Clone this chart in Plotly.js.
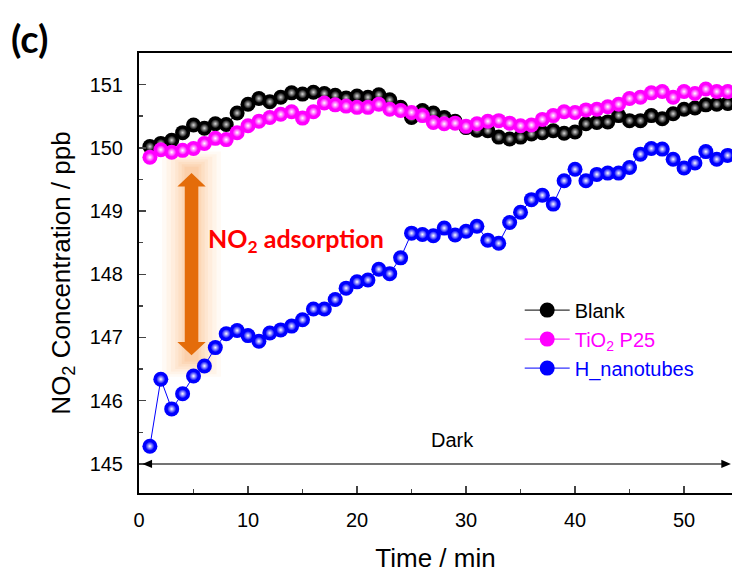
<!DOCTYPE html>
<html>
<head>
<meta charset="utf-8">
<script src="https://cdn.plot.ly/plotly-3.0.1.min.js"></script>
<style>html,body{margin:0;padding:0;background:#fff;}#chart{width:732px;height:579px;}</style>
</head>
<body>
<div id="chart"></div>
<script>
const timeMin = [1,2,3,4,5,6,7,8,9,10,11,12,13,14,15,16,17,18,19,20,21,22,23,24,25,26,27,28,29,30,31,32,33,34,35,36,37,38,39,40,41,42,43,44,45,46,47,48,49,50,51,52,53,54];
const blank = [150.02,150.07,150.12,150.24,150.36,150.31,150.38,150.37,150.55,150.69,150.78,150.73,150.80,150.87,150.85,150.88,150.86,150.83,150.79,150.82,150.80,150.84,150.76,150.64,150.48,150.59,150.55,150.48,150.42,150.32,150.28,150.27,150.17,150.14,150.17,150.22,150.24,150.27,150.23,150.25,150.38,150.40,150.41,150.51,150.43,150.43,150.51,150.46,150.54,150.61,150.63,150.68,150.69,150.70];
const tio2P25 = [149.85,149.97,149.93,149.96,149.99,150.07,150.15,150.13,150.24,150.35,150.42,150.48,150.53,150.57,150.47,150.57,150.71,150.68,150.66,150.64,150.64,150.69,150.61,150.59,150.56,150.51,150.40,150.38,150.39,150.34,150.38,150.42,150.43,150.39,150.35,150.36,150.45,150.51,150.57,150.56,150.60,150.61,150.65,150.69,150.78,150.80,150.87,150.89,150.80,150.89,150.86,150.93,150.89,150.89];
const hNanotubes = [145.28,146.34,145.87,146.11,146.39,146.55,146.84,147.06,147.11,147.03,146.94,147.07,147.12,147.18,147.28,147.45,147.45,147.60,147.78,147.88,147.91,148.08,148.01,148.26,148.65,148.63,148.61,148.73,148.62,148.68,148.76,148.54,148.49,148.82,148.98,149.18,149.25,149.11,149.48,149.66,149.48,149.58,149.60,149.60,149.69,149.90,149.99,149.98,149.82,149.68,149.76,149.94,149.82,149.88];
const seriesNames = ['<span style="color:#000000">Blank</span>', '<span style="color:#FF00FF">TiO<sub>2</sub> P25</span>', '<span style="color:#0000FF">H_nanotubes</span>'];
const xTicks = [0,10,20,30,40,50];
const yTicks = [145,146,147,148,149,150,151];

const series = [
  {y: blank, color: '#000000', hl: '#000000', hc: '#d8d8d8'},
  {y: tio2P25, color: '#FF00FF', hl: '#FF00FF', hc: '#ffffff'},
  {y: hNanotubes, color: '#0000FF', hl: '#0000FF', hc: '#ffffff'}
];
const traces = [];
series.forEach((s, i) => {
  traces.push({
    x: timeMin, y: s.y, type: 'scatter', mode: 'lines+markers', name: seriesNames[i],
    line: {color: s.color, width: 1},
    marker: {color: s.color, size: 15, line: {width: 0}}
  });
  traces.push({
    x: timeMin, y: s.y, type: 'scatter', mode: 'markers', showlegend: false, hoverinfo: 'skip',
    marker: {color: s.hl, size: 9, line: {width: 0}, gradient: {type: 'radial', color: s.hc}}
  });
});

const c = 4.82;
const arrowPath = `M${c},149.6 L${c+1.3},149.39 L${c+0.62},149.39 L${c+0.62},146.93 L${c+1.3},146.93 L${c},146.72 L${c-1.3},146.93 L${c-0.62},146.93 L${c-0.62},149.39 L${c-1.3},149.39 Z`;

const shapes = [];
// soft glow: stacked translucent layers
const glow = [[5.4,0.34,0.06],[4.6,0.30,0.07],[3.8,0.26,0.08],[3.0,0.22,0.09],[2.4,0.18,0.10],[1.8,0.14,0.12],[1.3,0.10,0.14]];
glow.forEach(([hw,ext,o]) => {
  shapes.push({type:'rect', xref:'x', yref:'y', x0:c-hw/2, x1:c+hw/2, y0:146.72-ext, y1:149.6+ext, fillcolor:'#F9A55A', opacity:o, line:{width:0}, layer:'below'});
});
shapes.push({type:'path', xref:'x', yref:'y', path: arrowPath, fillcolor:'#E46C0A', line:{width:0}});
// Dark double arrow
shapes.push({type:'line', xref:'x', yref:'y', x0:0.8, x1:53.8, y0:145, y1:145, line:{color:'#444', width:1.5}});
shapes.push({type:'path', xref:'x', yref:'y', path:'M0.32,145 L1.2,145.065 L1.2,144.935 Z', fillcolor:'#000', line:{width:0}});
shapes.push({type:'path', xref:'x', yref:'y', path:'M54.3,145 L53.42,145.065 L53.42,144.935 Z', fillcolor:'#000', line:{width:0}});

const layout = {
  width: 732, height: 579,
  margin: {l: 139, r: 0, t: 53, b: 86},
  paper_bgcolor: '#fff', plot_bgcolor: '#fff',
  font: {family: 'Liberation Sans, Arial, sans-serif', color: '#000'},
  showlegend: true,
  legend: {x: 0.642, y: 0.46, xanchor: 'left', yanchor: 'top', bgcolor: 'rgba(0,0,0,0)', font: {size: 20, family: 'Liberation Sans, Arial, sans-serif'}, itemwidth: 45, tracegroupgap: 0},
  xaxis: {
    range: [0, 54.4], tickvals: xTicks, ticktext: xTicks.map(String), ticks: 'inside', ticklen: 7, tickwidth: 1.5,
    minor: {dtick: 5, ticks: 'inside', ticklen: 4, tickwidth: 1.5},
    showline: true, linewidth: 2, linecolor: '#000', mirror: true, showgrid: false, zeroline: false,
    tickfont: {size: 20}, ticklabelstandoff: 8,
    title: {text: 'Time / min', font: {size: 26}, standoff: 19}
  },
  yaxis: {
    range: [144.54, 151.5], tickvals: yTicks, ticktext: yTicks.map(String), ticks: 'inside', ticklen: 7, tickwidth: 1.5,
    minor: {dtick: 0.5, ticks: 'inside', ticklen: 4, tickwidth: 1.5},
    showline: true, linewidth: 2, linecolor: '#000', mirror: true, showgrid: false, zeroline: false,
    tickfont: {size: 20}, ticklabelstandoff: 10,
    title: {text: 'NO<sub>2</sub> Concentration / ppb', font: {size: 26}, standoff: 12}
  },
  shapes: shapes,
  annotations: [
    {xref:'x', yref:'y', x:14.36, y:148.54, text:'<b>NO<sub>2</sub> adsorption</b>', showarrow:false, font:{family:'Lato, Open Sans, sans-serif', size:25, color:'#FF0000'}},
    {xref:'x', yref:'y', x:28.76, y:145.38, text:'Dark', showarrow:false, font:{size:20, color:'#000'}},
    {xref:'paper', yref:'paper', x:-0.219, y:1.09, xanchor:'left', yanchor:'top', text:'<b>(c)</b>', showarrow:false, font:{family:'Lato, Open Sans, sans-serif', size:38, color:'#000'}}
  ]
};

Plotly.newPlot('chart', traces, layout, {displayModeBar: false, staticPlot: true});
</script>
</body>
</html>
